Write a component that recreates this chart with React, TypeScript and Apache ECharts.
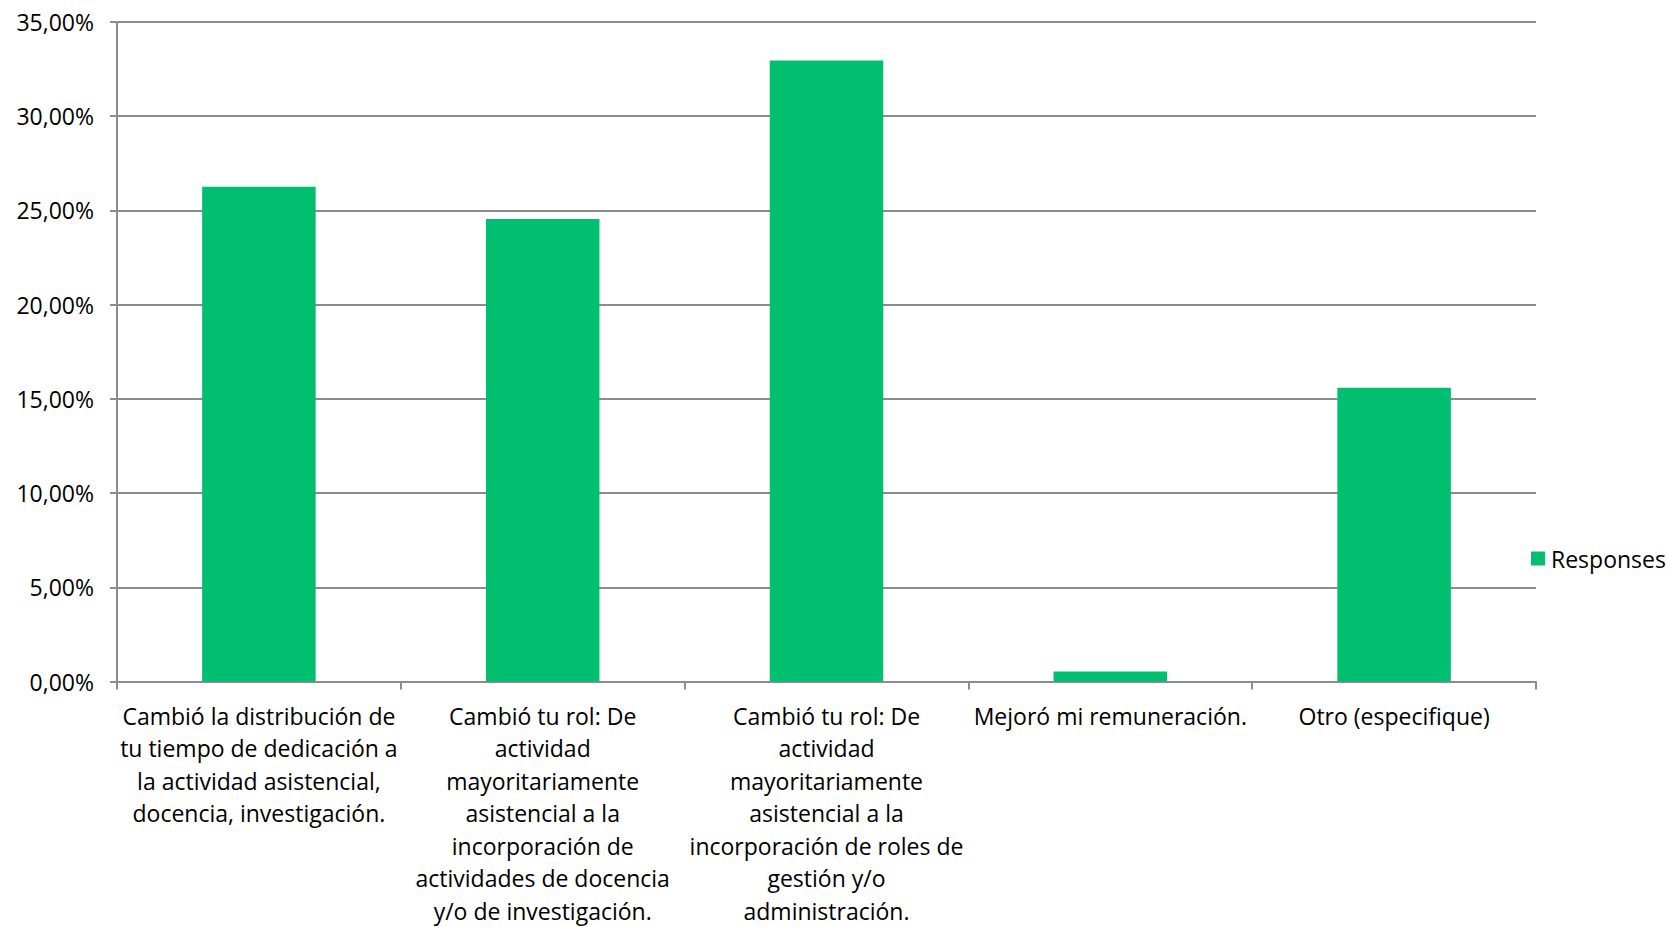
import React, { useEffect, useRef } from "react";
import * as echarts from "echarts";

const categories = [
  "Cambió la distribución de\ntu tiempo de dedicación a\nla actividad asistencial,\ndocencia, investigación.",
  "Cambió tu rol: De\nactividad\nmayoritariamente\nasistencial a la\nincorporación de\nactividades de docencia\ny/o de investigación.",
  "Cambió tu rol: De\nactividad\nmayoritariamente\nasistencial a la\nincorporación de roles de\ngestión y/o\nadministración.",
  "Mejoró mi remuneración.",
  "Otro (especifique)",
];
const responses = [26.26, 24.54, 32.96, 0.53, 15.59];
const seriesName = "Responses";

const FONT = "'Open Sans', sans-serif";
const GRID_COLOR = "#8c8c8c";

export default function App() {
  const ref = useRef<HTMLDivElement>(null);
  useEffect(() => {
    if (!ref.current) return;
    const chart = echarts.init(ref.current, undefined, { renderer: "svg" });
    chart.setOption({
      animation: false,
      textStyle: { fontFamily: FONT },
      grid: { left: 117, right: 133, top: 22, bottom: 242, containLabel: false },
      legend: {
        show: true,
        left: 1526,
        top: 542,
        itemWidth: 14,
        itemHeight: 14,
        icon: "rect",
        textStyle: { fontFamily: FONT, fontSize: 23, color: "#000", padding: [0, 0, 0, 1] },
        data: [seriesName],
      },
      xAxis: {
        type: "category",
        data: categories,
        axisLine: { show: true, lineStyle: { color: GRID_COLOR, width: 2 } },
        axisTick: { show: true, length: 8, alignWithLabel: false, lineStyle: { color: GRID_COLOR, width: 2 } },
        axisLabel: {
          interval: 0,
          margin: 18,
          fontFamily: FONT,
          fontSize: 23,
          lineHeight: 32.5,
          color: "#000",
          align: "center",
          verticalAlign: "top",
        },
      },
      yAxis: {
        type: "value",
        min: 0,
        max: 35,
        interval: 5,
        axisLine: { show: true, lineStyle: { color: GRID_COLOR, width: 2 } },
        axisTick: { show: true, length: 7, lineStyle: { color: GRID_COLOR, width: 2 } },
        splitLine: { show: true, lineStyle: { color: GRID_COLOR, width: 2 } },
        axisLabel: {
          margin: 23,
          fontFamily: FONT,
          fontSize: 23,
          color: "#000",
          formatter: (v: number) => v.toFixed(2).replace(".", ",") + "%",
        },
      },
      series: [
        {
          name: seriesName,
          type: "bar",
          data: responses,
          barCategoryGap: "60%",
          itemStyle: { color: "#00BF6F" },
        },
      ],
    });
    return () => chart.dispose();
  }, []);
  return (
    <div
      ref={ref}
      style={{ position: "fixed", left: 0, top: 0, width: 1669, height: 927, background: "#fff" }}
    />
  );
}
